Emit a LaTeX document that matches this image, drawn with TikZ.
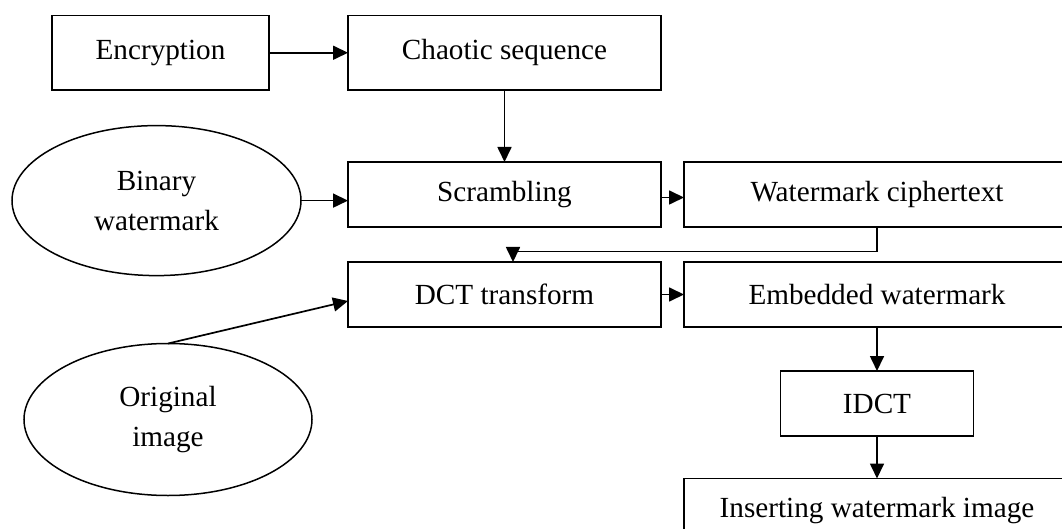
\documentclass[tikz,border=0pt]{standalone}
\usepackage{fontspec}
\setmainfont{Liberation Serif}
\usetikzlibrary{arrows.meta,shapes.geometric}

\tikzset{
  base/.style={draw=black, line width=1.7pt, inner sep=0pt, outer sep=0pt,
    font=\fontsize{29.2}{40}\selectfont, align=center},
  procbox/.style={base, rectangle, minimum height=65pt},
  datanode/.style={base, ellipse, line width=1.5pt},
  flow/.style={line width=1.7pt, -{Triangle[length=15pt,width=14pt]}}
}

\begin{document}
\begin{tikzpicture}[x=1pt, y=-1pt]
  \useasboundingbox (0,0) rectangle (1062,529);
  \clip (0,0) rectangle (1062,529);

  % process boxes
  \node[procbox, minimum width=217pt, minimum height=74.5pt] (enc) at (160.5,52.75) {Encryption};
  \node[procbox, minimum width=313pt, minimum height=74.5pt] (cha) at (504.5,52.75) {Chaotic sequence};
  \node[procbox, minimum width=313pt] (scr) at (504.5,194.5) {Scrambling};
  \node[procbox, minimum width=386pt] (wct) at (877,194.5) {Watermark ciphertext};
  \node[procbox, minimum width=313pt] (dct) at (504.5,294.5) {DCT transform};
  \node[procbox, minimum width=386pt] (emb) at (877,294.5) {Embedded watermark};
  \node[procbox, minimum width=193pt] (idct) at (877,403.5) {IDCT};
  \node[procbox, minimum width=386pt] (ins) at (877,511) {Inserting watermark image};

  % input data
  \node[datanode, minimum width=289pt, minimum height=150pt] (bw) at (156.5,200.6) {Binary\\watermark};
  \node[datanode, minimum width=288pt, minimum height=152pt] (orig) at (168,419.5) {Original\\image};

  % connectors
  \draw[flow] (enc.east) -- (cha.west);
  \draw[flow] (cha.south) -- (scr.north);
  \draw[flow] (bw.east) -- (bw.east -| scr.west);
  \draw[flow] ([yshift=-3pt]scr.east) -- ([yshift=-3pt]wct.west);
  \draw[flow] (wct.south) -- ++(0,24.6) -| ([xshift=8.5pt]dct.north);
  \draw[flow] (orig.north) -- ([yshift=-6.5pt]dct.west);
  \draw[flow] (dct.east) -- (emb.west);
  \draw[flow] (emb.south) -- (idct.north);
  \draw[flow] (idct.south) -- (ins.north);
\end{tikzpicture}
\end{document}
